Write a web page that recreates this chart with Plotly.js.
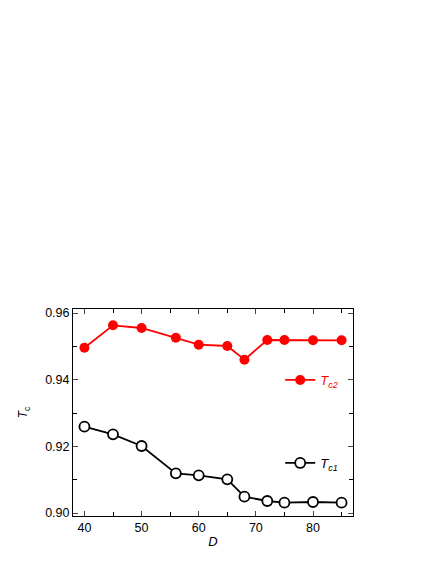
<!DOCTYPE html>
<html><head><meta charset="utf-8">
<script src="https://cdn.plot.ly/plotly-3.0.1.min.js"></script>
<style>html,body{margin:0;padding:0;background:#fff}#c{width:436px;height:564px}</style>
</head><body><div id="c"></div>
<script>
var D = [40, 45, 50, 56, 60, 65, 68, 72, 75, 80, 85];
var Tc2 = [0.9496, 0.9563, 0.9555, 0.9526, 0.9505, 0.9501, 0.9460, 0.9519, 0.9519, 0.9518, 0.9518];
var Tc1 = [0.9259, 0.9236, 0.9201, 0.9119, 0.9113, 0.9101, 0.9049, 0.9036, 0.9031, 0.9033, 0.9031];
var xTicks = [40, 50, 60, 70, 80];
var yTicks = [0.90, 0.92, 0.94, 0.96];

var traces = [
  {x: D, y: Tc2, type: 'scatter', mode: 'lines+markers', name: '<i>T</i><sub><i>c2</i></sub>',
   line: {color: '#ff0000', width: 1.8}, marker: {color: '#ff0000', size: 10, symbol: 'circle'},
   legend: 'legend'},
  {x: D, y: Tc1, type: 'scatter', mode: 'lines+markers', name: '<i>T</i><sub><i>c1</i></sub>',
   line: {color: '#000000', width: 1.8}, marker: {color: '#ffffff', size: 10, symbol: 'circle', line: {color: '#000', width: 1.8}},
   legend: 'legend2'}
];
var layout = {
  width: 436, height: 564,
  margin: {l: 73, r: 83, t: 309, b: 48},
  paper_bgcolor: '#fff', plot_bgcolor: '#fff',
  font: {family: 'Liberation Sans, Arial, sans-serif', size: 12.5, color: '#000'},
  xaxis: {range: [38, 87], tickvals: xTicks, ticks: 'inside', ticklen: 5, tickwidth: 1,
    showline: true, linecolor: '#000', linewidth: 1, mirror: 'ticks', showgrid: false, zeroline: false,
    minor: {dtick: 5, tick0: 0, ticks: 'inside', ticklen: 4, tickcolor: '#000', showgrid: false},
    title: {text: '<i>D</i>', font: {size: 13}, standoff: 2}},
  yaxis: {range: [0.8991, 0.9612], tickvals: yTicks, tickformat: '.2f', ticks: 'inside', ticklen: 5, tickwidth: 1,
    showline: true, linecolor: '#000', linewidth: 1, mirror: 'ticks', showgrid: false, zeroline: false,
    minor: {dtick: 0.01, tick0: 0, ticks: 'inside', ticklen: 4, tickcolor: '#000', showgrid: false},
    title: {text: '<i>T</i><sub>c</sub>', font: {size: 12}, standoff: 14}},
  legend: {x: 0.74, y: 0.657, xanchor: 'left', yanchor: 'middle', bgcolor: 'rgba(0,0,0,0)',
    font: {color: '#ff0000', size: 13}, itemwidth: 30},
  legend2: {x: 0.74, y: 0.256, xanchor: 'left', yanchor: 'middle', bgcolor: 'rgba(0,0,0,0)',
    font: {color: '#000000', size: 13}, itemwidth: 30},
  showlegend: true
};
Plotly.newPlot('c', traces, layout, {displayModeBar: false, staticPlot: true});
</script>
</body></html>
